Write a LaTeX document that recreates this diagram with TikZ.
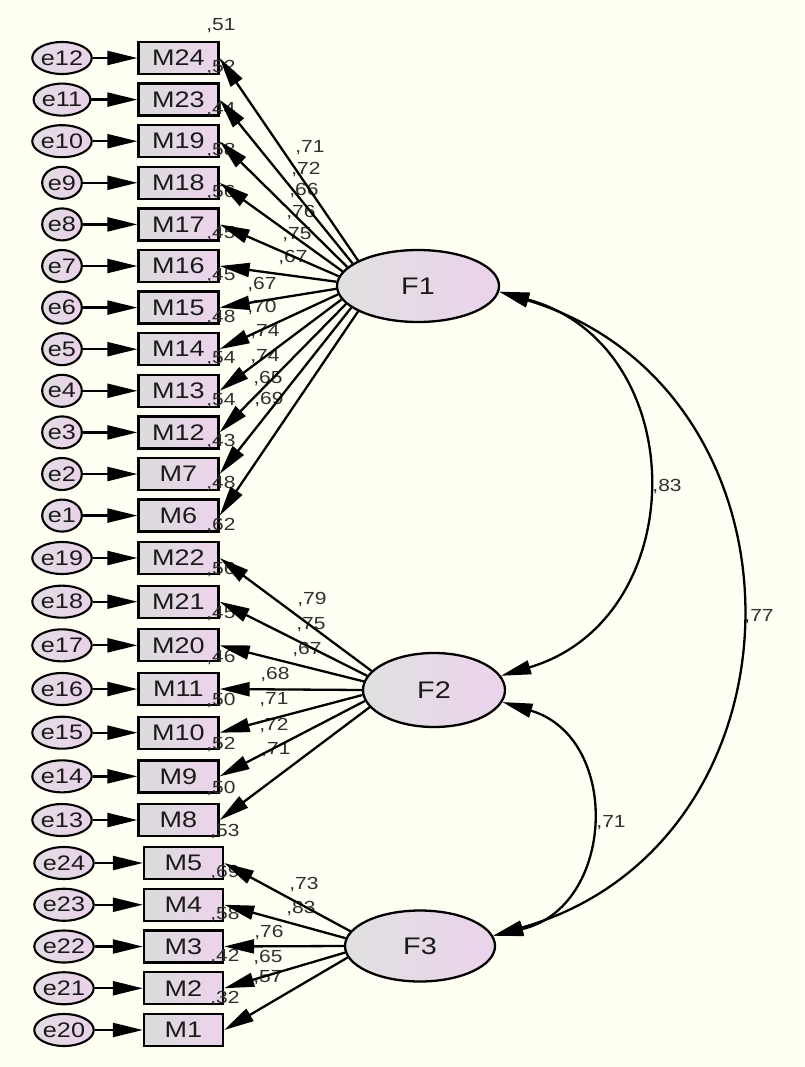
\documentclass[tikz,border=0pt]{standalone}
\usepackage{graphicx}
\usepackage{fontspec}
\setmainfont{Liberation Sans}
\usetikzlibrary{arrows.meta,shapes.geometric}
\definecolor{bg}{HTML}{FFFFF3}
\definecolor{boxL}{HTML}{DCDCDC}
\definecolor{boxR}{HTML}{EBD3EB}
\definecolor{eL}{HTML}{E2DCE2}
\definecolor{eR}{HTML}{EAD2EA}
\definecolor{latL}{HTML}{E0E0E0}
\definecolor{latR}{HTML}{EBD3EB}
\definecolor{txt}{HTML}{1A1A1A}
\definecolor{lblc}{HTML}{303030}
\newcommand{\hs}[1]{\scalebox{1.2}[1]{#1}}
\begin{document}
\begin{tikzpicture}[x=1pt,y=-1pt,
  mbox/.style={draw=black, line width=2.3pt, minimum width=80pt, minimum height=32pt, inner sep=0pt, left color=boxL, right color=boxR, text=txt, font=\fontsize{22.5}{22.5}\selectfont},
  ecirc/.style={ellipse, draw=black, line width=2.1pt, minimum width=39pt, minimum height=32pt, inner sep=0pt, left color=eL, right color=eR, text=txt, font=\fontsize{21}{21}\selectfont},
  lat/.style={ellipse, draw=black, line width=2.3pt, inner sep=0pt, left color=latL, right color=latR, text=txt, font=\fontsize{24}{24}\selectfont},
  lbl/.style={inner sep=0pt, text=lblc, font=\fontsize{17.5}{17.5}\selectfont},
  arr/.style={line width=2.3pt, -{Triangle[length=30pt,width=14pt]}},
  cov/.style={line width=2.3pt, {Triangle[length=30pt,width=14pt]}-{Triangle[length=30pt,width=14pt]}},
]
\path[use as bounding box, fill=bg] (0,0) rectangle (804,1067);

% latent factors
\node[lat, minimum width=162pt, minimum height=72pt] (F1) at (418,286) {\hs{F1}};
\node[lat, minimum width=142pt, minimum height=74pt] (F2) at (434,690) {\hs{F2}};
\node[lat, minimum width=150pt, minimum height=71pt] (F3) at (420,946) {\hs{F3}};

% group 1 (F1)
\foreach \n/\e/\i/\r/\l/\lx/\ly in {24/12/0/51/71/310/148, 23/11/1/52/72/306/170, 19/10/2/44/66/304/191, 18/9/3/58/76/301/213, 17/8/4/56/75/297/235, 16/7/5/45/67/293/258, 15/6/6/45/67/262/285, 14/5/7/48/70/262/308, 13/4/8/54/74/265/332, 12/3/9/54/74/265/357, 7/2/10/43/65/268/379, 6/1/11/48/69/269/400}{
  \pgfmathsetmacro\yy{58+41.6*\i}
  \node[mbox] (M\n) at (178.5,\yy) {\hs{M\n}};
  \node[ecirc] (e\e) at (62,\yy) {\hs{e\e}};
  \node[lbl] (r\n) at (221,\yy-32) {\hs{,\r}};
  \node[lbl] (l\n) at (\lx,\ly) {\hs{,\l}};
}
% group 2 (F2)
\foreach \n/\e/\i/\r/\l/\lx/\ly in {22/19/0/62/79/312/600, 21/18/1/56/75/311/625, 20/17/2/45/67/307/650, 11/16/3/46/68/275/675, 10/15/4/50/71/274/700, 9/14/5/52/72/274/726, 8/13/6/50/71/276/750}{
  \pgfmathsetmacro\yy{558+43.67*\i}
  \node[mbox] (M\n) at (178.5,\yy) {\hs{M\n}};
  \node[ecirc] (e\e) at (62,\yy) {\hs{e\e}};
  \node[lbl] (r\n) at (221,\yy-32) {\hs{,\r}};
  \node[lbl] (l\n) at (\lx,\ly) {\hs{,\l}};
}
% group 3 (F3)
\foreach \n/\e/\i/\r/\l/\lx/\ly in {5/24/0/53/73/304/884, 4/23/1/69/83/301/908, 3/22/2/58/76/269/932, 2/21/3/42/65/268/957, 1/20/4/32/57/268/978}{
  \pgfmathsetmacro\yy{863+41.75*\i}
  \node[mbox, minimum width=79pt] (M\n) at (183.5,\yy) {\hs{M\n}};
  \node[ecirc] (e\e) at (64,\yy) {\hs{e\e}};
  \node[lbl] (r\n) at (225,\yy-32) {\hs{,\r}};
  \node[lbl] (l\n) at (\lx,\ly) {\hs{,\l}};
}

% covariance labels
\node[lbl] (c12) at (667,487) {\hs{,83}};
\node[lbl] (c13) at (759,617) {\hs{,77}};
\node[lbl] (c23) at (611,823) {\hs{,71}};

% error arrows
\foreach \n/\e in {24/12,23/11,19/10,18/9,17/8,16/7,15/6,14/5,13/4,12/3,7/2,6/1,22/19,21/18,20/17,11/16,10/15,9/14,8/13,5/24,4/23,3/22,2/21,1/20}{
  \draw[arr] (e\e) -- (M\n);
}
% loadings
\foreach \n/\a in {24/157,23/161.2,19/165.4,18/169.5,17/173.7,16/177.9,15/182.1,14/186.3,13/190.5,12/194.6,7/198.8,6/203}{
  \draw[arr] (F1.\a) -- (M\n.east);
}
\foreach \n/\a in {22/163,21/168.3,20/173.7,11/180,10/184.3,9/189.7,8/195}{
  \draw[arr] (F2.\a) -- (M\n.east);
}
\foreach \n/\a in {5/168,4/174,3/180,2/185,1/189}{
  \draw[arr] (F3.\a) -- (M\n.east);
}

% covariances
\draw[cov] (F1.-4) .. controls +(194,53) and +(193,-57) .. (F2.12);
\draw[cov] (F1.-4) .. controls +(322,98) and +(324,-92) .. (F3.8);
\draw[cov] (F2.-10) .. controls +(120,36) and +(122,-28) .. (F3.8);
\end{tikzpicture}
\end{document}
